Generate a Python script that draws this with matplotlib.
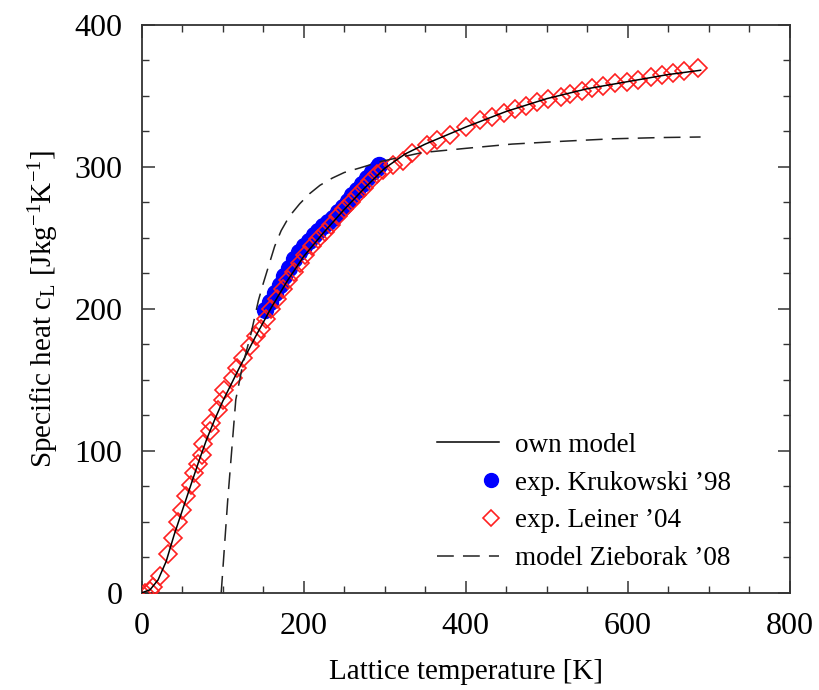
import matplotlib
matplotlib.use("Agg")
import matplotlib.pyplot as plt
from matplotlib.ticker import MultipleLocator
from matplotlib.legend_handler import HandlerLine2D
from matplotlib.lines import Line2D

plt.rcParams["font.family"] = ["Liberation Serif", "DejaVu Serif"]
plt.rcParams["mathtext.fontset"] = "custom"
plt.rcParams["mathtext.rm"] = "Liberation Serif"
plt.rcParams["mathtext.it"] = "Liberation Serif"

# own model curve
model_T = [0, 10, 20, 30, 40, 50, 60, 70, 80, 90, 100, 120, 140, 160, 180, 200,
           225, 250, 275, 300, 325, 350, 375, 400, 450, 500, 550, 600, 650, 690]
model_c = [0, 2, 9, 22, 41, 58, 75, 92, 108, 122, 135, 158, 180, 201, 220, 237,
           254, 270, 285, 299, 309, 316, 322, 328, 339, 348, 355, 360, 365, 368]

# Krukowski '98
kru_T = [152, 158, 164, 170, 176, 182, 188, 194, 200, 206, 212, 218, 224, 230,
         236, 242, 248, 254, 260, 266, 272, 278, 284, 290, 293]
kru_c = [199, 205, 211, 217, 223, 229, 235, 240, 244, 248, 252, 255, 258, 261,
         264, 268, 272, 276, 280, 284, 288, 292, 296, 299, 301]

# Leiner '04
lei_T = [4, 10, 14, 22, 32, 39, 45, 49, 55, 61, 65, 69, 74, 76, 84, 86, 94, 100,
         102, 112, 117, 125, 133, 141, 147, 153, 160, 167, 174, 181, 188, 195,
         202, 210, 218, 226, 234, 242, 250, 258, 266, 274, 282, 290, 298, 310,
         322, 334, 352, 365, 381, 400, 418, 432, 447, 461, 474, 488, 502, 517,
         529, 543, 556, 570, 584, 599, 613, 629, 642, 656, 670, 687]
lei_c = [0, 1, 4, 11.5, 27, 38.5, 50, 58, 68, 76, 84, 91, 97, 105, 114, 119.5,
         129, 136, 143, 151, 158, 165, 173.5, 180.5, 186, 193, 200, 207, 214,
         220, 226, 232, 238, 244, 249, 254, 259, 265, 270, 275, 280, 285, 290,
         295, 298, 301, 304, 310, 315.5, 319, 322.5, 328, 333, 335.4, 338, 340.6,
         343, 345.3, 347.7, 349.5, 351.4, 353.5, 355.4, 357, 359, 360, 361.3, 363,
         364.8, 366, 367.8, 369.5]

# model Zieborak '08
zie_T = [98, 106, 116, 124, 135, 144, 150, 164, 172, 182, 195, 207, 220, 235,
         250, 268, 297, 346, 400, 457, 520, 580, 640, 690]
zie_c = [0, 65, 136, 159, 183, 206, 218, 244, 255, 265, 274, 281, 287, 292,
         296, 299, 304, 310, 313, 316, 318, 319.7, 320.6, 321]


class MarkerAtEnd(HandlerLine2D):
    # marker-only handles: put the single marker at the right end, next to the text
    def create_artists(self, legend, orig_handle, xdescent, ydescent, width,
                       height, fontsize, trans):
        artists = super().create_artists(legend, orig_handle, xdescent, ydescent,
                                         width, height, fontsize, trans)
        line = artists[0]
        if orig_handle.get_linestyle() in ("None", "none", "", " "):
            xd = list(line.get_xdata())
            line.set_xdata([xd[0], xd[-1] - 0.3 * fontsize, xd[-1]])
        return artists


fig = plt.figure(figsize=(8.2, 6.9), dpi=100)
ax = fig.add_axes([0.173, 0.141, 0.79, 0.823])

ax.plot(model_T, model_c, color="black", lw=1.1, label="own model", zorder=4)
ax.plot(kru_T, kru_c, "o", color="#0000ff", ms=11.5, mec="#0000ff",
        label="exp. Krukowski \u201998", zorder=2)
ax.plot(lei_T, lei_c, "D", mfc="none", mec="#ff2020", mew=1.2, ms=9,
        label="exp. Leiner \u201904", zorder=3)
ax.plot(zie_T, zie_c, color="#222222", lw=1.1, ls=(0, (11, 6)),
        label="model Zieborak \u201908", zorder=4)

ax.set_xlim(0, 800)
ax.set_ylim(0, 400)
ax.xaxis.set_major_locator(MultipleLocator(200))
ax.xaxis.set_minor_locator(MultipleLocator(50))
ax.yaxis.set_major_locator(MultipleLocator(100))
ax.yaxis.set_minor_locator(MultipleLocator(25))
ax.tick_params(which="both", direction="in", top=True, right=True,
               labelsize=23, color="#333333")
ax.tick_params(which="major", length=9, width=1.1, pad=14)
ax.tick_params(which="minor", length=5, width=1.0)
for s in ax.spines.values():
    s.set_color("#333333")
    s.set_linewidth(1.3)

ax.set_xlabel("Lattice temperature [K]", fontsize=21, labelpad=13)
ax.set_ylabel("Specific heat c$_\\mathrm{L}$ [Jkg$^{-1}$K$^{-1}$]",
              fontsize=21, labelpad=10)

leg = ax.legend(loc="lower left", frameon=False, fontsize=19.5,
                handlelength=2.3, handletextpad=0.6, labelspacing=0.47,
                borderpad=0, borderaxespad=0, bbox_to_anchor=(0.455, 0.038),
                handler_map={Line2D: MarkerAtEnd(numpoints=1)})
for h in leg.legend_handles:
    if h.get_marker() == "o":
        h.set_markersize(10)
    elif h.get_marker() == "D":
        h.set_markersize(8)

fig.savefig("out.png", dpi=100)
